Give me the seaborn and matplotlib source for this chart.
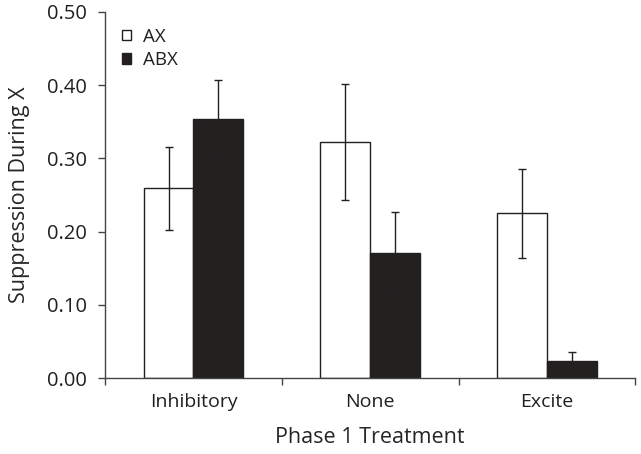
import numpy as np
import pandas as pd
import matplotlib
matplotlib.use("Agg")
import matplotlib.pyplot as plt
import seaborn as sns
from matplotlib.ticker import FormatStrFormatter, FixedLocator
from matplotlib.patches import Patch

treatments = ["Inhibitory", "None", "Excite"]
groups = ["AX", "ABX"]
ax_means = [0.259, 0.322, 0.225]
abx_means = [0.354, 0.171, 0.024]
ax_sem = [0.057, 0.079, 0.061]
abx_sem = [0.053, 0.056, 0.012]

df = pd.DataFrame({
    "treatment": treatments * 2,
    "group": ["AX"] * 3 + ["ABX"] * 3,
    "suppression": ax_means + abx_means,
    "sem": ax_sem + abx_sem,
})

ink = "#231f20"
sns.set_style("white")
plt.rcParams["font.family"] = ["Open Sans", "DejaVu Sans"]
plt.rcParams["text.color"] = ink
plt.rcParams["xtick.color"] = ink
plt.rcParams["ytick.color"] = ink

fig = plt.figure(figsize=(6.41, 4.54), dpi=100)
ax = fig.add_axes([0.164, 0.167, 0.827, 0.807])

sns.barplot(data=df, x="treatment", y="suppression", hue="group",
            order=treatments, hue_order=groups,
            palette={"AX": "white", "ABX": ink},
            edgecolor=ink, linewidth=1.0, width=0.565,
            errorbar=None, ax=ax, legend=False)

# error bars at the bar centres that seaborn placed
for cont, g in zip(ax.containers, groups):
    sub = df[df["group"] == g].set_index("treatment").loc[treatments]
    xs = [p.get_x() + p.get_width() / 2 for p in cont.patches]
    ax.errorbar(xs, sub["suppression"], yerr=sub["sem"], fmt="none",
                ecolor=ink, elinewidth=1.0, capsize=3, capthick=1.0)

ax.set_ylim(0, 0.5)
ax.set_xlim(-0.5, 2.5)
ax.set_yticks(np.arange(0, 0.51, 0.1))
ax.yaxis.set_major_formatter(FormatStrFormatter("%.2f"))
ax.xaxis.set_minor_locator(FixedLocator([-0.5, 0.5, 1.5, 2.5]))
ax.tick_params(axis="x", which="major", length=0, labelsize=14, pad=11)
ax.tick_params(axis="x", which="minor", length=5, width=1, color="#444444",
               direction="out", bottom=True)
ax.tick_params(axis="y", length=5, width=1, color="#444444", direction="out",
               left=True, labelsize=14.5, pad=8)

for s in ["top", "right"]:
    ax.spines[s].set_visible(False)
for s in ["left", "bottom"]:
    ax.spines[s].set_color("#444444")
    ax.spines[s].set_linewidth(1.0)

ax.set_xlabel("Phase 1 Treatment", fontsize=15.5, labelpad=11)
ax.set_ylabel("Suppression During X", fontsize=15.5, labelpad=12)

handles = [Patch(facecolor="white", edgecolor=ink, linewidth=1.0),
           Patch(facecolor=ink, edgecolor=ink, linewidth=1.0)]
ax.legend(handles, groups, loc="upper left", bbox_to_anchor=(0.0, 1.003),
          frameon=False, fontsize=13.5, handlelength=0.5, handleheight=0.5,
          handletextpad=0.6, labelspacing=0.3)

fig.savefig("out.png", dpi=100)
